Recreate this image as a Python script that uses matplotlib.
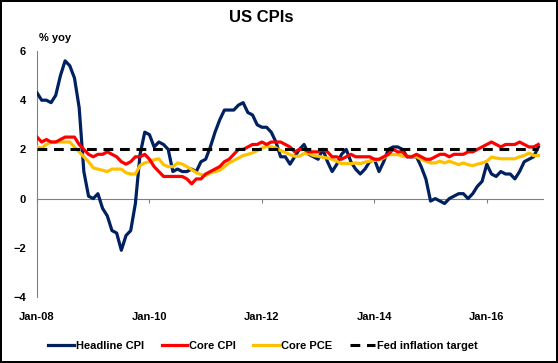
import matplotlib
matplotlib.use("Agg")
import matplotlib.pyplot as plt
import numpy as np

plt.rcParams['font.family'] = ['Liberation Sans', 'DejaVu Sans']
plt.rcParams['font.weight'] = 'bold'

# monthly, Jan-08 .. Dec-16
headline_cpi = [
    4.3, 4.0, 4.0, 3.9, 4.2, 5.0, 5.6, 5.4, 4.9, 3.7, 1.1, 0.1,
    0.0, 0.2, -0.4, -0.7, -1.3, -1.4, -2.1, -1.5, -1.3, -0.2, 1.8, 2.7,
    2.6, 2.1, 2.3, 2.2, 2.0, 1.1, 1.2, 1.1, 1.1, 1.2, 1.1, 1.5,
    1.6, 2.1, 2.7, 3.2, 3.6, 3.6, 3.6, 3.8, 3.9, 3.5, 3.4, 3.0,
    2.9, 2.9, 2.7, 2.3, 1.7, 1.7, 1.4, 1.7, 2.0, 2.2, 1.8, 1.7,
    1.6, 2.0, 1.5, 1.1, 1.4, 1.8, 2.0, 1.5, 1.2, 1.0, 1.2, 1.5,
    1.6, 1.1, 1.5, 2.0, 2.1, 2.1, 2.0, 1.7, 1.7, 1.7, 1.3, 0.8,
    -0.1, 0.0, -0.1, -0.2, 0.0, 0.1, 0.2, 0.2, 0.0, 0.2, 0.5, 0.7,
    1.4, 1.0, 0.9, 1.1, 1.0, 1.0, 0.8, 1.1, 1.5, 1.6, 1.7, 2.1,
]
core_cpi = [
    2.5, 2.3, 2.4, 2.3, 2.3, 2.4, 2.5, 2.5, 2.5, 2.2, 2.0, 1.8,
    1.7, 1.8, 1.8, 1.9, 1.8, 1.7, 1.5, 1.4, 1.5, 1.7, 1.7, 1.8,
    1.6, 1.3, 1.1, 0.9, 0.9, 0.9, 0.9, 0.9, 0.8, 0.6, 0.8, 0.8,
    1.0, 1.1, 1.2, 1.3, 1.5, 1.6, 1.8, 2.0, 2.0, 2.1, 2.2, 2.2,
    2.3, 2.2, 2.3, 2.3, 2.3, 2.2, 2.1, 1.9, 2.0, 2.0, 1.9, 1.9,
    1.9, 2.0, 1.9, 1.7, 1.7, 1.6, 1.7, 1.8, 1.7, 1.7, 1.7, 1.7,
    1.6, 1.6, 1.7, 1.8, 2.0, 1.9, 1.9, 1.7, 1.7, 1.8, 1.7, 1.6,
    1.6, 1.7, 1.8, 1.8, 1.7, 1.8, 1.8, 1.8, 1.9, 1.9, 2.0, 2.1,
    2.2, 2.3, 2.2, 2.1, 2.2, 2.2, 2.2, 2.3, 2.2, 2.1, 2.1, 2.2,
]
core_pce = [
    2.1, 2.05, 2.2, 2.3, 2.3, 2.3, 2.3, 2.3, 2.1, 1.9, 1.7, 1.5,
    1.25, 1.2, 1.15, 1.1, 1.2, 1.2, 1.2, 1.05, 1.0, 1.0, 1.35, 1.45,
    1.5, 1.58, 1.62, 1.38, 1.3, 1.3, 1.45, 1.4, 1.3, 1.18, 1.05, 0.98,
    0.94, 1.04, 1.1, 1.15, 1.3, 1.45, 1.55, 1.65, 1.75, 1.8, 1.86, 1.95,
    2.06, 2.12, 2.1, 2.06, 1.95, 1.88, 1.79, 1.72, 1.72, 1.83, 1.83, 1.75,
    1.72, 1.68, 1.65, 1.6, 1.52, 1.42, 1.42, 1.42, 1.45, 1.42, 1.48, 1.52,
    1.55, 1.58, 1.65, 1.79, 1.79, 1.79, 1.72, 1.72, 1.72, 1.7, 1.6, 1.52,
    1.45, 1.45, 1.52, 1.45, 1.52, 1.45, 1.38, 1.45, 1.38, 1.34, 1.4, 1.45,
    1.52, 1.69, 1.65, 1.62, 1.62, 1.62, 1.62, 1.7, 1.75, 1.85, 1.75, 1.75,
]
fed_target = 2.0
tick_pos = [0, 24, 48, 72, 96]
tick_labels = ['Jan-08', 'Jan-10', 'Jan-12', 'Jan-14', 'Jan-16']
y_ticks = [-4, -2, 0, 2, 4, 6]

months = np.arange(len(headline_cpi))

fig = plt.figure(figsize=(5.58, 3.63), dpi=100)
fig.patch.set_edgecolor('black')
fig.patch.set_linewidth(1.5)
ax = fig.add_axes([37/558, 1-297/363, (543-37)/558, (297-51)/363])

ax.plot(months, headline_cpi, color='#002060', lw=2.3, label='Headline CPI', zorder=3)
ax.plot(months, core_cpi, color='#ff0000', lw=2.3, label='Core CPI', zorder=4)
ax.plot(months, core_pce, color='#ffc000', lw=2.3, label='Core PCE', zorder=3)
ax.plot([months[0], months[-1]], [fed_target, fed_target], color='black', lw=2.2,
        ls=(0, (3.2, 2.2)), label='Fed inflation target', zorder=5)

ax.set_xlim(0, 108)
ax.set_ylim(-4, 6)
ax.set_yticks(y_ticks)
ax.tick_params(axis='y', length=0, pad=8, labelsize=8)
for s in ['top', 'right']:
    ax.spines[s].set_visible(False)
ax.spines['left'].set_color('#808080')
ax.spines['bottom'].set_position(('data', 0))
ax.spines['bottom'].set_color('#808080')
ax.set_xticks(tick_pos)
ax.tick_params(axis='x', direction='out', length=3, color='#808080', labelbottom=False)

sec = ax.secondary_xaxis(0)
sec.set_xticks(tick_pos)
sec.set_xticklabels(tick_labels)
sec.spines['bottom'].set_visible(False)
sec.tick_params(length=0, pad=11, labelsize=8)

fig.text(261/558, 1-18/363, 'US CPIs', ha='center', va='center', fontsize=12, fontweight='bold')
fig.text(39/558, 1-38/363, '% yoy', ha='left', va='center', fontsize=8, fontweight='bold')

fig.legend(loc='center', bbox_to_anchor=(263/558, 1-346/363), ncol=4, frameon=False,
           fontsize=8, handlelength=2.3, handletextpad=0.15, columnspacing=1.6)

fig.savefig('out.png', dpi=100, edgecolor=fig.get_edgecolor())
